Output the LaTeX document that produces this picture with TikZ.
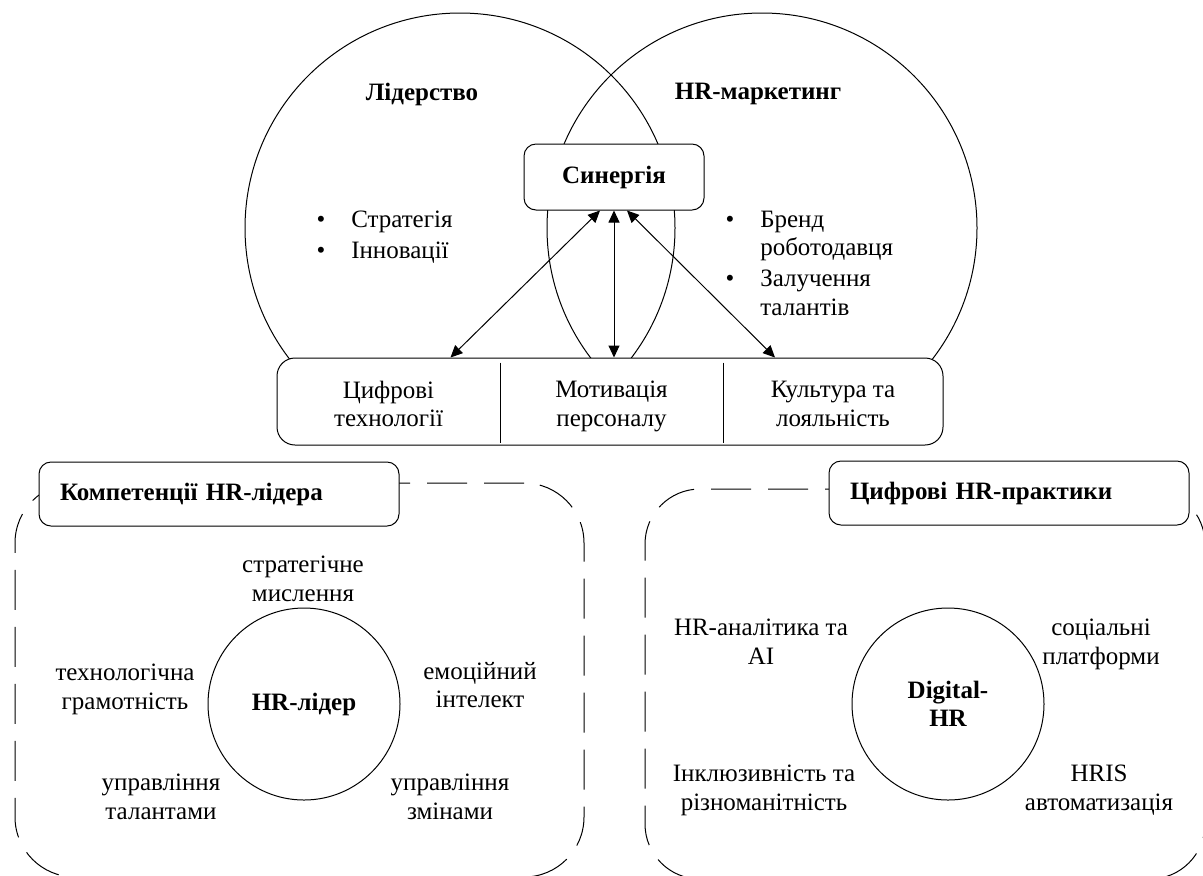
\documentclass[tikz,border=0pt]{standalone}
\usepackage{fontspec}
\setmainfont{Liberation Serif}
\usetikzlibrary{arrows.meta}

\begin{document}
\begin{tikzpicture}[x=0.5pt, y=-0.5pt, line width=0.5pt,
	every node/.style={font=\fontsize{12.5}{14.2}\selectfont},
	ring/.style={draw, circle, inner sep=0pt},
	card/.style={draw, fill=white, rounded corners=6pt},
	cell/.style={minimum width=111.5pt, minimum height=43.5pt, align=center, inner sep=0pt,
		execute at begin node=\strut, execute at end node=\strut},
	panel/.style={draw, rounded corners=30pt, dash pattern=on 20pt off 8.5pt},
	head/.style={font=\fontsize{12.5}{14.2}\selectfont\bfseries},
	link/.style={{Triangle[length=6pt,width=5.5pt]}-{Triangle[length=6pt,width=5.5pt]}},
	lbl/.style={align=center, execute at begin node=\strut, execute at end node=\strut}]
	\useasboundingbox (0,0) rectangle (1203,875);
	\clip (0,0) rectangle (1203,875);

	\node[ring, minimum size=215pt] (lead) at (460,228) {};
	\node[ring, minimum size=215pt] (mark) at (762,228) {};

	\node[head] (leadtitle) at (422,94) {Лідерство};
	\node[head] (marktitle) at (758,94) {HR-маркетинг};

	\node[anchor=north west, inner sep=0pt] (leadlist) at (316,207)
		{\begin{tabular}{@{}l@{\hspace{13pt}}l@{}}\textbullet & Стратегія\\[1.3pt] \textbullet & Інновації\end{tabular}};
	\node[anchor=north west, inner sep=0pt] (marklist) at (725,207)
		{\begin{tabular}{@{}l@{\hspace{13pt}}l@{}}\textbullet & Бренд\\ & роботодавця\\[1.3pt] \textbullet & Залучення\\ & талантів\end{tabular}};

	\node[card, head, minimum width=90pt, minimum height=33pt] (syn) at (614,177) {Синергія};

	\node[card, rounded corners=9pt, minimum width=333pt, minimum height=43.5pt] (base) at (610,401.5) {};
	\node[cell] (cdig) at (388.5,408) {Цифрові\\технології};
	\node[cell] (cmot) at (611.5,408) {Мотивація\\персоналу};
	\node[cell, minimum width=110pt] (ccul) at (833,408) {Культура та\\лояльність};
	\draw ([yshift=-2.5pt]cdig.east |- base.north) -- ([yshift=1.5pt]cdig.east |- base.south);
	\draw ([yshift=-2.5pt]cmot.east |- base.north) -- ([yshift=1.5pt]cmot.east |- base.south);

	\draw[link] ([xshift=-7pt]syn.south) -- ([xshift=31pt]cdig.north |- base.north);
	\draw[link] (syn.south) -- (syn.south |- base.north);
	\draw[link] ([xshift=6.5pt]syn.south) -- ([xshift=-29pt]ccul.north |- base.north);

	\node[panel, minimum width=284.5pt, minimum height=197pt] (lpanel) at (299.5,680) {};
	\node[panel, rounded corners=27.5pt, minimum width=280pt, minimum height=195pt] (rpanel) at (925,684) {};

	\node[card, head, text width=159pt, inner xsep=10.5pt, minimum height=32pt, align=left] (ltitle) at (219,494) {Компетенції HR-лідера};
	\node[card, head, text width=159pt, inner xsep=10.5pt, minimum height=32pt, align=left] (rtitle) at (1009,493) {Цифрові HR-практики};

	\node[ring, head, minimum size=96pt] (hub) at (304,704) {HR-лідер};
	\node[lbl] (think) at (303,583) {стратегічне\\мислення};
	\node[lbl] (tech) at (125,691) {технологічна\\грамотність};
	\node[lbl] (emo) at (480,689) {емоційний\\інтелект};
	\node[lbl] (tal) at (161,801) {управління\\талантами};
	\node[lbl] (chg) at (450,801) {управління\\змінами};

	\node[ring, head, minimum size=96pt, align=center] (dhub) at (948,704) {Digital-\\HR};
	\node[lbl] (ana) at (761,646) {HR-аналітика та\\AI};
	\node[lbl] (soc) at (1101,646) {соціальні\\платформи};
	\node[lbl] (incl) at (764,792) {Інклюзивність та\\різноманітність};
	\node[lbl] (hris) at (1099,792) {HRIS\\автоматизація};
\end{tikzpicture}
\end{document}
